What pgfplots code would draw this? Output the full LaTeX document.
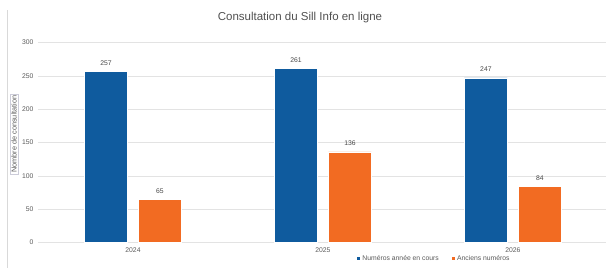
\documentclass[border=0pt]{standalone}
\usepackage{pgfplots}
\pgfplotsset{compat=1.18}
\usepackage{fontspec}
\setmainfont{Liberation Sans}
\definecolor{cblue}{HTML}{0F5B9E}
\definecolor{corange}{HTML}{F26B22}
\definecolor{txt}{HTML}{595959}
\begin{document}
\begin{tikzpicture}[x=1pt,y=1pt]
\useasboundingbox (0,0) rectangle (606,268);
\draw[gray!30,line width=0.6pt] (7.5,0) -- (7.5,258);
\node[text=txt!90!black,font=\fontsize{11.5}{13}\selectfont] at (300,250) {Consultation du Sill Info en ligne};
\begin{axis}[
  at={(38pt,25.5pt)}, anchor=south west,
  scale only axis, width=568pt, height=200pt,
  ybar,
  xmin=-0.5, xmax=2.49, ymin=0, ymax=300,
  xtick={0,1,2}, xticklabels={2024,2025,2026},
  ytick={0,50,...,300},
  ymajorgrids, major grid style={gray!22, line width=0.6pt},
  axis line style={draw=none},
  major tick length=0pt,
  tick label style={text=txt,font=\fontsize{6.8}{8}\selectfont},
  /pgf/number format/assume math mode=true,
  yticklabel style={xshift=-1pt},
  xticklabel style={yshift=-2pt},
  ylabel={Nombre de consultation},
  ylabel style={at={(axis description cs:-0.0423,0.5425)}, anchor=center,
    draw=blue!15!gray!35, inner sep=1.5pt, text=txt, font=\fontsize{7.3}{8}\selectfont},
  bar width=43pt,
  nodes near coords,
  every node near coord/.append style={text=txt!80!black, font=\fontsize{6.8}{8}\selectfont, yshift=2.5pt},
  legend columns=2,
  legend style={at={(axis description cs:0.697,-0.08)}, anchor=center, draw=none, fill=none,
    font=\fontsize{6.8}{8}\selectfont, text=txt, inner sep=0pt,
    /tikz/every even column/.append style={column sep=10pt}},
  legend image code/.code={\fill[#1] (0pt,-2pt) rectangle (4pt,2pt);},
]
\addplot[bar shift=-27pt, fill=cblue, draw=white, line width=0.3pt] coordinates {(0,257) (1,261) (2,247)};
\addlegendentry{Numéros année en cours}
\addplot[bar shift=27pt, fill=corange, draw=white, line width=0.3pt] coordinates {(0,65) (1,136) (2,84)};
\addlegendentry{Anciens numéros}
\end{axis}
\end{tikzpicture}
\end{document}
